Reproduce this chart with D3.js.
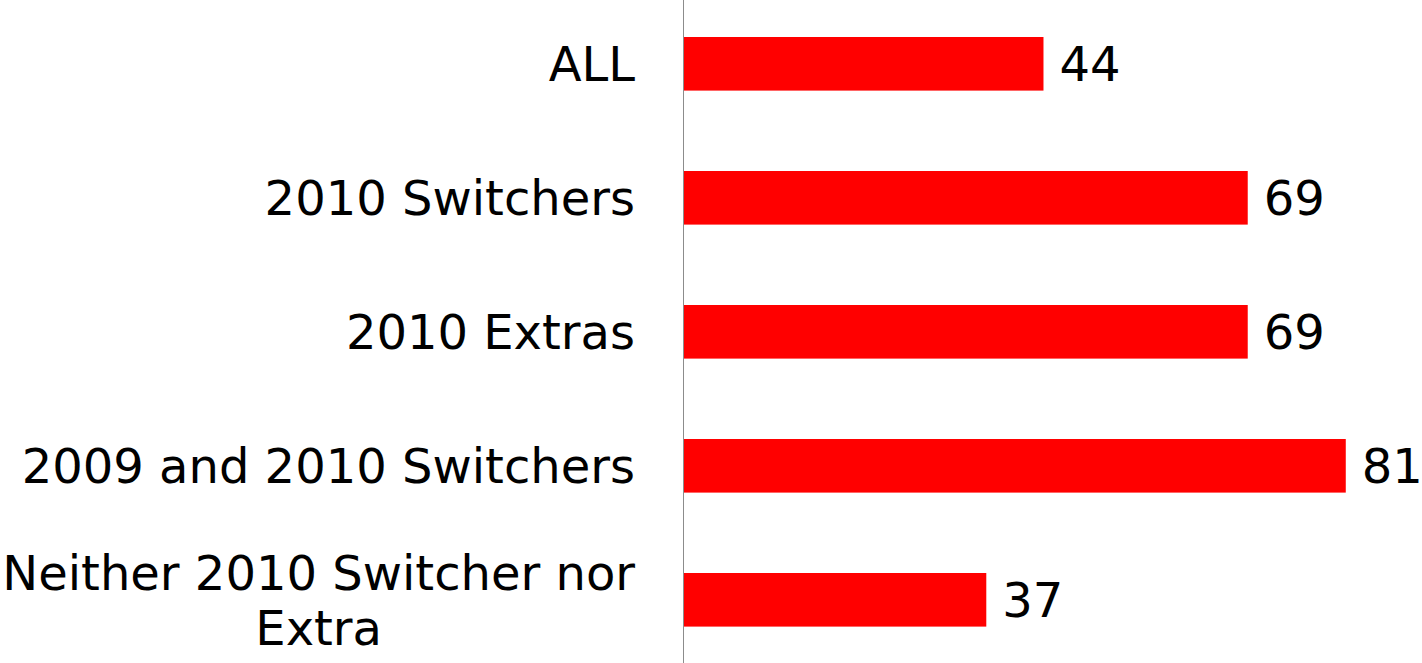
<!DOCTYPE html>
<html>
<head>
<meta charset="utf-8">
<script src="https://cdn.jsdelivr.net/npm/d3@7"></script>
<style>
  body { margin: 0; background: #fff; }
  svg { display: block; }
</style>
</head>
<body>
<script>
'use strict';

// chart data
const categories = ["ALL", "2010 Switchers", "2010 Extras", "2009 and 2010 Switchers", "Neither 2010 Switcher nor\nExtra"];
const values = [44, 69, 69, 81, 37];

(function () {
  const width = 1422, height = 663;
  const fontSize = 48;
  const lineHeight = 55;

  const svg = d3.select('body').append('svg')
    .attr('width', width)
    .attr('height', height);

  const data = categories.map((c, i) => ({ cat: c, val: values[i] }));

  // x scale: zero sits on the axis line
  const x = d3.scaleLinear()
    .domain([0, 100])
    .range([684, 684 + 817]);

  const y = d3.scaleBand()
    .domain(categories)
    .range([-3.2, 666.8])
    .paddingInner(0.6)
    .paddingOuter(0.3);

  // bars
  svg.selectAll('.bar')
    .data(data)
    .enter().append('rect')
    .attr('class', 'bar')
    .attr('x', x(0))
    .attr('y', d => y(d.cat))
    .attr('width', d => x(d.val) - x(0))
    .attr('height', y.bandwidth())
    .style('fill', '#ff0000');

  // vertical axis line
  svg.append('line')
    .attr('x1', x(0) - 0.5)
    .attr('x2', x(0) - 0.5)
    .attr('y1', 0)
    .attr('y2', height)
    .style('stroke', '#8c8c8c')
    .style('stroke-width', 1);

  const capHalf = fontSize * 0.729 / 2;

  // category labels (multi-line ones centred under the widest line)
  data.forEach(d => {
    const lines = d.cat.split('\n');
    const cy = y(d.cat) + y.bandwidth() / 2;
    const g = svg.append('g');
    const texts = lines.map((ln, i) => g.append('text')
      .attr('y', cy + capHalf + (i - (lines.length - 1) / 2) * lineHeight)
      .style('font-family', 'DejaVu Sans, Verdana, sans-serif')
      .style('font-size', fontSize + 'px')
      .style('fill', '#000')
      .text(ln));
    const widths = texts.map(t => t.node().getComputedTextLength());
    const maxW = d3.max(widths);
    const right = 635;
    texts.forEach((t, i) => {
      t.attr('x', right - maxW / 2).attr('text-anchor', 'middle');
    });
  });

  // value labels
  svg.selectAll('.val')
    .data(data)
    .enter().append('text')
    .attr('class', 'val')
    .attr('x', d => x(d.val) + 16)
    .attr('y', d => y(d.cat) + y.bandwidth() / 2 + capHalf)
    .style('font-family', 'DejaVu Sans, Verdana, sans-serif')
    .style('font-size', fontSize + 'px')
    .style('fill', '#000')
    .text(d => d.val);
})();
</script>
</body>
</html>
